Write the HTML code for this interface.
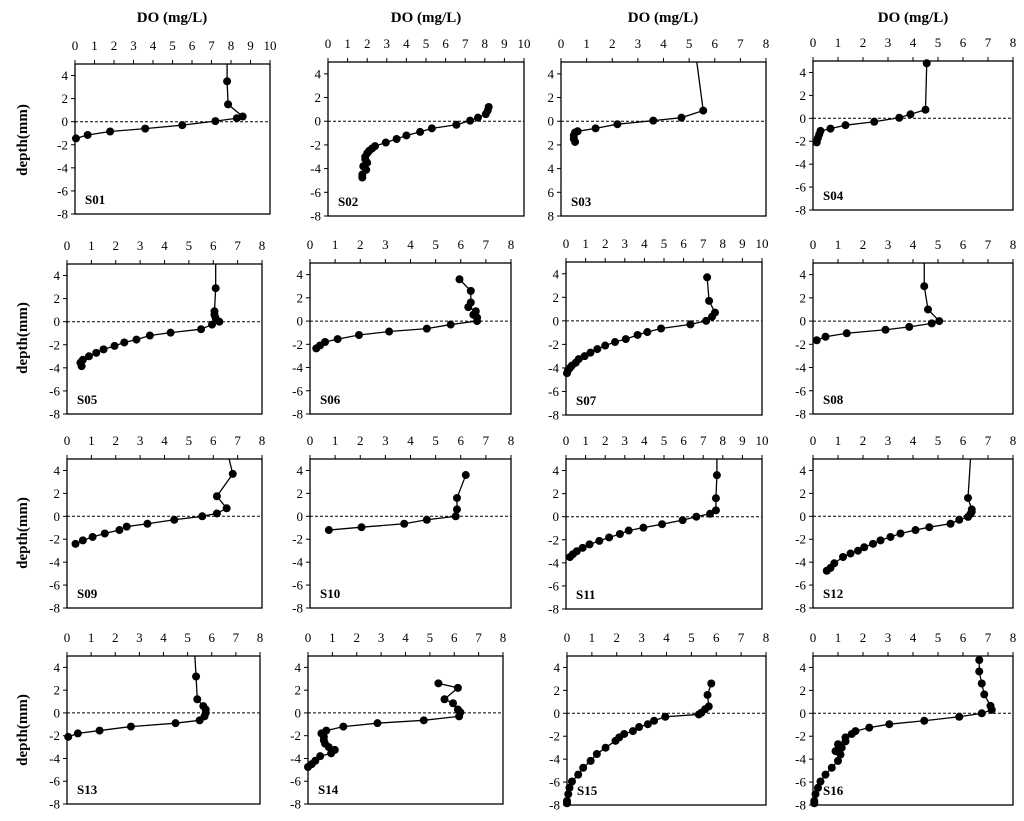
<!DOCTYPE html>
<html><head><meta charset="utf-8">
<style>
html,body{margin:0;padding:0;background:#fff;}
svg{display:block;font-family:"Liberation Serif",serif;}
</style></head>
<body>
<svg id="chart" width="1024" height="821" viewBox="0 0 1024 821"></svg>
<script>
// Panel names and x-axis maxima
const panelNames = ["S01","S02","S03","S04","S05","S06","S07","S08","S09","S10","S11","S12","S13","S14","S15","S16"];
const xMaxes = [10,10,8,8,8,8,10,8,8,8,10,8,8,8,8,8];
// DO value where the line exits the top edge (depth 5), null if none
const topDO = [7.8,null,5.3,4.55,6.1,null,null,4.45,6.65,null,7.7,6.3,5.3,null,null,null];
const yTickValues = [4,2,0,-2,-4,-6,-8];
// Series: DO values and depth values per panel
const doS01 = [7.8,7.85,8.6,8.3,7.2,5.5,3.6,1.8,0.65,0.05];
const dS01 = [3.5,1.5,0.45,0.3,0.05,-0.3,-0.6,-0.85,-1.15,-1.45];
const doS02 = [8.2,8.15,8.05,7.65,7.25,6.55,5.3,4.7,4.0,3.5,2.95,2.4,2.25,2.1,2.0,1.9,1.9,2.0,1.8,1.95,1.75,1.75];
const dS02 = [1.2,0.9,0.6,0.3,0.05,-0.3,-0.6,-0.9,-1.2,-1.5,-1.8,-2.1,-2.3,-2.5,-2.7,-3.0,-3.2,-3.5,-3.8,-4.1,-4.5,-4.75];
const doS03 = [5.55,4.7,3.6,2.2,1.35,0.65,0.55,0.5,0.5,0.55];
const dS03 = [0.9,0.3,0.05,-0.25,-0.6,-0.85,-0.95,-1.2,-1.5,-1.75];
const doS04 = [4.55,4.5,3.9,3.45,2.45,1.3,0.7,0.3,0.25,0.2,0.15,0.15];
const dS04 = [4.8,0.75,0.35,0.05,-0.3,-0.6,-0.9,-1.1,-1.4,-1.7,-1.95,-2.1];
const doS05 = [6.1,6.05,6.05,6.1,6.25,5.95,5.5,4.25,3.4,2.85,2.35,1.95,1.5,1.2,0.9,0.65,0.55,0.6];
const dS05 = [2.9,0.9,0.6,0.3,0,-0.25,-0.65,-0.95,-1.2,-1.55,-1.8,-2.1,-2.4,-2.7,-3.0,-3.3,-3.55,-3.85];
const doS06 = [5.95,6.4,6.4,6.3,6.6,6.5,6.65,6.65,5.6,4.65,3.15,1.95,1.1,0.6,0.4,0.25];
const dS06 = [3.6,2.6,1.6,1.2,0.85,0.55,0.3,0,-0.3,-0.65,-0.9,-1.2,-1.55,-1.8,-2.1,-2.35];
const doS07 = [7.2,7.3,7.6,7.45,7.15,6.35,4.85,4.15,3.65,3.05,2.5,2.0,1.6,1.25,0.95,0.65,0.5,0.3,0.2,0.1,0.05];
const dS07 = [3.7,1.7,0.7,0.35,0,-0.3,-0.65,-0.95,-1.2,-1.55,-1.8,-2.1,-2.4,-2.7,-3.0,-3.25,-3.55,-3.8,-4.0,-4.2,-4.45];
const doS08 = [4.45,4.6,5.05,4.75,3.85,2.9,1.35,0.5,0.15];
const dS08 = [3.0,1.0,0,-0.2,-0.5,-0.75,-1.05,-1.35,-1.65];
const doS09 = [6.8,6.15,6.55,6.15,5.55,4.4,3.3,2.45,2.15,1.55,1.05,0.65,0.35];
const dS09 = [3.7,1.75,0.7,0.25,0,-0.3,-0.65,-0.9,-1.2,-1.5,-1.8,-2.1,-2.4];
const doS10 = [6.2,5.85,5.85,5.8,4.65,3.75,2.05,0.75];
const dS10 = [3.6,1.6,0.6,0,-0.3,-0.65,-0.95,-1.2];
const doS11 = [7.7,7.65,7.65,7.35,6.65,5.95,4.9,3.95,3.2,2.75,2.2,1.7,1.2,0.85,0.55,0.35,0.2];
const dS11 = [3.6,1.6,0.55,0.25,0,-0.3,-0.65,-0.95,-1.2,-1.5,-1.8,-2.1,-2.4,-2.7,-3.0,-3.25,-3.5];
const doS12 = [6.2,6.35,6.35,6.3,6.2,5.85,5.5,4.65,4.1,3.5,3.1,2.7,2.4,2.05,1.8,1.5,1.2,0.85,0.7,0.55];
const dS12 = [1.6,0.6,0.4,0.2,-0.05,-0.3,-0.65,-0.95,-1.2,-1.5,-1.8,-2.1,-2.4,-2.7,-3.0,-3.25,-3.55,-4.1,-4.5,-4.75];
const doS13 = [5.35,5.4,5.65,5.75,5.75,5.7,5.5,4.5,2.65,1.35,0.45,0.05];
const dS13 = [3.2,1.2,0.6,0.3,0,-0.3,-0.65,-0.9,-1.2,-1.55,-1.8,-2.1];
const doS14 = [5.35,6.15,5.6,5.95,6.15,6.25,6.2,4.75,2.85,1.45,0.75,0.55,0.65,0.65,0.7,0.85,1.1,0.95,0.5,0.3,0.15,0.0];
const dS14 = [2.6,2.2,1.2,0.85,0.3,0.05,-0.3,-0.65,-0.9,-1.2,-1.55,-1.8,-2.1,-2.4,-2.7,-3.0,-3.25,-3.55,-3.8,-4.2,-4.5,-4.75];
const doS15 = [5.8,5.65,5.7,5.55,5.4,5.3,3.95,3.5,3.25,2.9,2.65,2.3,2.1,1.95,1.55,1.2,0.95,0.65,0.45,0.2,0.1,0.05,0.0,0.0];
const dS15 = [2.6,1.6,0.6,0.35,0.05,-0.1,-0.3,-0.65,-0.95,-1.2,-1.55,-1.8,-2.1,-2.4,-3.0,-3.55,-4.15,-4.75,-5.35,-5.95,-6.5,-7.05,-7.65,-7.85];
const doS16 = [6.65,6.65,6.75,6.85,7.1,7.15,6.75,5.85,4.45,3.05,2.25,1.7,1.55,1.3,1.3,1.0,1.15,0.9,1.1,1.0,0.75,0.5,0.3,0.2,0.1,0.05,0.05];
const dS16 = [4.65,3.65,2.6,1.65,0.65,0.3,0,-0.3,-0.65,-0.95,-1.25,-1.55,-1.8,-2.1,-2.45,-2.7,-3.0,-3.3,-3.6,-4.15,-4.75,-5.35,-5.95,-6.5,-7.05,-7.65,-7.85];
const doSeries = [doS01,doS02,doS03,doS04,doS05,doS06,doS07,doS08,doS09,doS10,doS11,doS12,doS13,doS14,doS15,doS16];
const depthSeries = [dS01,dS02,dS03,dS04,dS05,dS06,dS07,dS08,dS09,dS10,dS11,dS12,dS13,dS14,dS15,dS16];

// layout boxes (pixels) [left,right,top,bottom]
const boxes = [
 [75,270,64,214],[328,524,62,216],[561,766,62,216],[813,1013,61,210],
 [67,262,264,414],[310,511,263,414],[566,762,262,415],[813,1013,263,414],
 [67,262,459,608],[310,511,459,608],[566,762,459,609],[813,1013,459,608],
 [67,260,656,804],[308,503,656,804],[567,766,656,805],[813,1013,656,805]
];
const NS="http://www.w3.org/2000/svg";
const svg=document.getElementById('chart');
function mk(tag,attrs,parent){const e=document.createElementNS(NS,tag);for(const k in attrs)e.setAttribute(k,attrs[k]);(parent||svg).appendChild(e);return e;}

// column titles
[172,426,663,913].forEach((cx,i)=>{
  const t=mk('text',{x:cx,y:22,'text-anchor':'middle','font-size':'15','font-weight':'bold'});
  t.textContent='DO (mg/L)';
  
  
});
// row titles
[140,338,533,730].forEach((cy,i)=>{
  const t=mk('text',{x:0,y:0,transform:`translate(27,${cy}) rotate(-90)`,'text-anchor':'middle','font-size':'15','font-weight':'bold'});
  t.textContent='depth(mm)';
  
  
});

panelNames.forEach((name,p)=>{
  const [L,R,T,B]=boxes[p];
  const xMax=xMaxes[p];
  const xs=v=>L+(v/xMax)*(R-L);
  const ys=v=>T+((5-v)/13)*(B-T);
  const g=mk('g',{});
  
  
  const box=mk('rect',{x:L,y:T,width:R-L,height:B-T,fill:'none',stroke:'#000','stroke-width':'1.3'},g);
  
  
  // x ticks
  for(let v=0;v<=xMax;v++){
    const tk=mk('line',{x1:xs(v),x2:xs(v),y1:T,y2:T-4,stroke:'#000','stroke-width':'1'},g);
    
    
    const lb=mk('text',{x:xs(v),y:T-14,'text-anchor':'middle','font-size':'13'},g);
    lb.textContent=String(v);
    
    
  }
  yTickValues.forEach(v=>{
    const tk=mk('line',{x1:L,x2:L-4,y1:ys(v),y2:ys(v),stroke:'#000','stroke-width':'1'},g);
    
    
    const lb=mk('text',{x:L-7,y:ys(v)+4.5,'text-anchor':'end','font-size':'13'},g);
    lb.textContent=(p===2?String(Math.abs(v)):String(v));
    
    
  });
  const zl=mk('line',{x1:L,x2:R,y1:ys(0),y2:ys(0),stroke:'#000','stroke-width':'1','stroke-dasharray':'3,2'},g);
  
  
  const dv=doSeries[p], dd=depthSeries[p];
  let pts=[];
  if(topDO[p]!==null) pts.push([xs(topDO[p]),ys(5)]);
  dv.forEach((v,i)=>pts.push([xs(v),ys(dd[i])]));
  const line=mk('polyline',{points:pts.map(q=>q.join(',')).join(' '),fill:'none',stroke:'#000','stroke-width':'1.3'},g);
  
  
  dv.forEach((v,i)=>{
    const c=mk('circle',{cx:xs(v),cy:ys(dd[i]),r:4,fill:'#000'},g);
    
    
  });
  const lab=mk('text',{x:L+10,y:B-10,'font-size':'13','font-weight':'bold'},g);
  lab.textContent=name;
  
  
});
</script>
</body></html>
